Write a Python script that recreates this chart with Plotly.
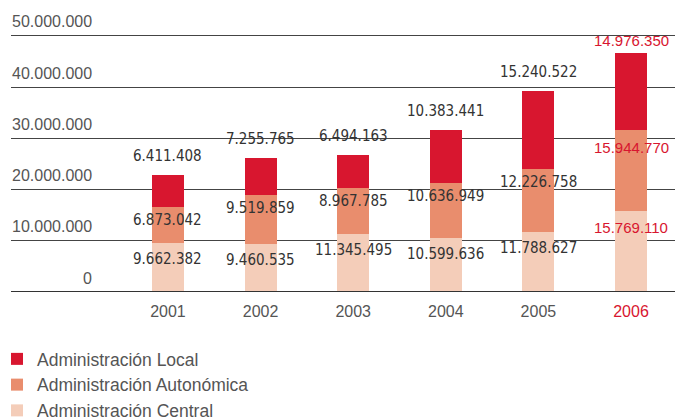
import plotly.graph_objects as go

years = ["2001", "2002", "2003", "2004", "2005", "2006"]
central = [9662382, 9460535, 11345495, 10599636, 11788627, 15769110]
autonomica = [6873042, 9519859, 8967785, 10636949, 12226758, 15944770]
local = [6411408, 7255765, 6494163, 10383441, 15240522, 14976350]
ytick_vals = [0, 10000000, 20000000, 30000000, 40000000, 50000000]
ytick_text = ["0", "10.000.000", "20.000.000", "30.000.000", "40.000.000", "50.000.000"]

C_LOCAL = "#d8162f"
C_AUTO = "#e98d6d"
C_CENT = "#f4cdb9"
RED = "#d8162f"
DARK = "#333333"
GREY = "#555555"

def fmt(v):
    return f"{v:,}".replace(",", ".")

fig = go.Figure()
names = ["Administración Central", "Administración Autonómica", "Administración Local"]
for vals, name, col in [(central, names[0], C_CENT), (autonomica, names[1], C_AUTO), (local, names[2], C_LOCAL)]:
    fig.add_trace(go.Bar(x=years, y=vals, name=name, marker=dict(color=col, line=dict(width=0)),
                         width=0.345, legendgroup=name, hoverinfo="skip"))

L, R = 11, 0
W = 675 - L - R

ann = []
for i, yr in enumerate(years):
    last = (i == len(years) - 1)
    if last:
        fnt = dict(family="Liberation Sans, Arial, sans-serif", size=15, color=RED)
        shifts = (-16, -18, 12)
    else:
        fnt = dict(family="DejaVu Sans Condensed, Liberation Sans, sans-serif", size=15, color=DARK)
        shifts = (-16, -13, 19)
    c_top = central[i]
    a_top = central[i] + autonomica[i]
    l_top = a_top + local[i]
    ann.append(dict(x=i, y=c_top, xref="x", yref="y", text=fmt(central[i]), showarrow=False,
                    yanchor="middle", yshift=shifts[0], font=fnt))
    ann.append(dict(x=i, y=a_top, xref="x", yref="y", text=fmt(autonomica[i]), showarrow=False,
                    yanchor="middle", yshift=shifts[1], font=fnt))
    ann.append(dict(x=i, y=l_top, xref="x", yref="y", text=fmt(local[i]), showarrow=False,
                    yanchor="middle", yshift=shifts[2], font=fnt))

for v, t in zip(ytick_vals, ytick_text):
    ann.append(dict(x=(94 - L) / W, xref="x domain", y=v, yref="y", text=t, showarrow=False,
                    xanchor="right", yanchor="middle", yshift=14,
                    font=dict(family="Liberation Sans, Arial, sans-serif", size=16, color=GREY)))

fig.update_layout(
    width=675, height=420,
    margin=dict(l=L, r=R, t=30, b=128, autoexpand=False),
    paper_bgcolor="white", plot_bgcolor="white",
    barmode="stack", bargap=0,
    showlegend=True,
    legend=dict(x=-14 / W, xanchor="left", xref="paper", y=1 - 341 / 420, yref="container", yanchor="top",
                traceorder="reversed", tracegroupgap=7,
                font=dict(family="Liberation Sans, Arial, sans-serif", size=17.5, color=GREY),
                bgcolor="rgba(0,0,0,0)", itemclick=False),
    xaxis=dict(type="category", range=[-1.695, 5.475], showgrid=False, zeroline=False, showline=False,
               ticks="", ticklabelstandoff=8,
               tickvals=years,
               ticktext=[y if y != "2006" else f"<span style='color:{RED}'>{y}</span>" for y in years],
               tickfont=dict(family="Liberation Sans, Arial, sans-serif", size=16, color=GREY)),
    yaxis=dict(range=[0, 51170000], tickvals=ytick_vals, showticklabels=False, showgrid=True,
               gridcolor="#444444", gridwidth=1.3, zeroline=False, showline=False),
    annotations=ann,
    shapes=[dict(type="line", xref="paper", yref="y", x0=0, x1=1, y0=0, y1=0,
                 line=dict(color="#333333", width=2.2), layer="above")],
)

fig.write_html("out.html", config={"displayModeBar": False},
               post_script="document.body.style.margin='0';")
